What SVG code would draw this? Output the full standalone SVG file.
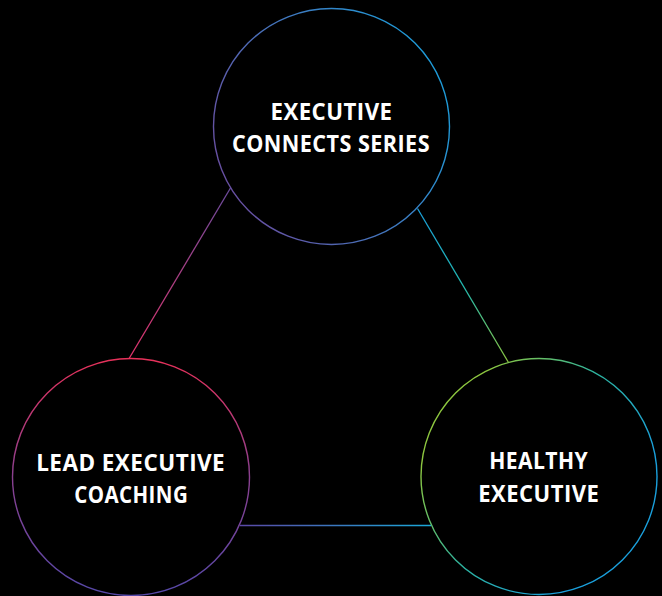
<svg xmlns="http://www.w3.org/2000/svg" width="662" height="596" viewBox="0 0 662 596">
<style>
.ring{fill:#000;stroke-width:1.4}
.lbl{fill:#fff;font-family:"Open Sans","Liberation Sans",sans-serif;font-weight:700;font-size:23.5px;text-anchor:middle;letter-spacing:0.5px}
.conn{stroke-width:1.3;fill:none}
</style>
<defs>
<linearGradient id="gTop" x1="1" y1="0.25" x2="0" y2="0.75"><stop offset="0" stop-color="#1a9fdb"/><stop offset="1" stop-color="#6b4b9e"/></linearGradient>
<linearGradient id="gLeft" x1="0" y1="0" x2="0" y2="1"><stop offset="0" stop-color="#e8315a"/><stop offset="0.5" stop-color="#8a4090"/><stop offset="1" stop-color="#5548a8"/></linearGradient>
<linearGradient id="gRight" x1="0.1" y1="0.3" x2="0.75" y2="0.75"><stop offset="0" stop-color="#8dc63f"/><stop offset="0.5" stop-color="#2db3a0"/><stop offset="1" stop-color="#1a9fdb"/></linearGradient>
<linearGradient id="lL" gradientUnits="userSpaceOnUse" x1="230" y1="188" x2="128" y2="359"><stop offset="0" stop-color="#6b4b9e"/><stop offset="1" stop-color="#e2336a"/></linearGradient>
<linearGradient id="lR" gradientUnits="userSpaceOnUse" x1="417" y1="208" x2="508" y2="363"><stop offset="0" stop-color="#1a9fdb"/><stop offset="0.5" stop-color="#22b8b0"/><stop offset="1" stop-color="#8dc63f"/></linearGradient>
<linearGradient id="lB" gradientUnits="userSpaceOnUse" x1="240" y1="525" x2="431" y2="525"><stop offset="0" stop-color="#5a48a6"/><stop offset="1" stop-color="#1aa8d8"/></linearGradient>
</defs>
<rect width="662" height="596" fill="#000"/>
<g id="connectors">
<line class="conn" stroke="url(#lL)" x1="230.5" y1="188" x2="128.5" y2="359.5"/>
<line class="conn" stroke="url(#lR)" x1="417.5" y1="208.5" x2="508.5" y2="362.5"/>
<line class="conn" stroke="url(#lB)" x1="240" y1="525.5" x2="431" y2="525.5"/>
</g>
<g id="node-top">
<circle class="ring" stroke="url(#gTop)" cx="331.5" cy="126.5" r="118"/>
<text class="lbl" x="331.5" y="119.5" textLength="122" lengthAdjust="spacingAndGlyphs">EXECUTIVE</text>
<text class="lbl" x="331" y="151.5" textLength="198" lengthAdjust="spacingAndGlyphs">CONNECTS SERIES</text>
</g>
<g id="node-left">
<circle class="ring" stroke="url(#gLeft)" cx="131" cy="477" r="118.5"/>
<text class="lbl" x="130.7" y="470.7" textLength="189" lengthAdjust="spacingAndGlyphs">LEAD EXECUTIVE</text>
<text class="lbl" x="131.2" y="503.3" textLength="114" lengthAdjust="spacingAndGlyphs">COACHING</text>
</g>
<g id="node-right">
<circle class="ring" stroke="url(#gRight)" cx="539" cy="476.5" r="118"/>
<text class="lbl" x="538.7" y="469.3" textLength="99" lengthAdjust="spacingAndGlyphs">HEALTHY</text>
<text class="lbl" x="538.8" y="501.7" textLength="121" lengthAdjust="spacingAndGlyphs">EXECUTIVE</text>
</g>
</svg>
